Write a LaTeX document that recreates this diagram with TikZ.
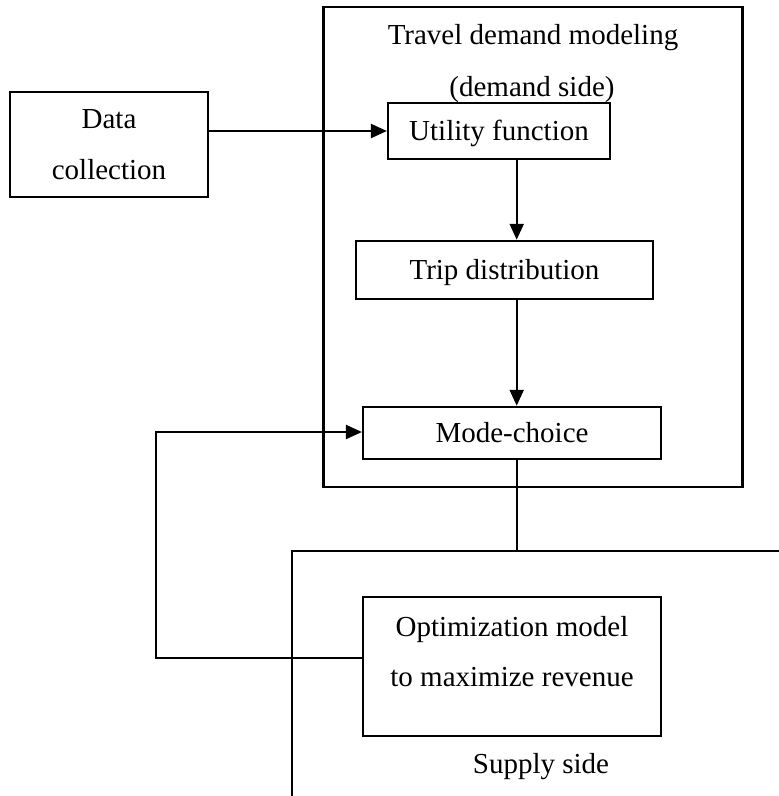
\documentclass[tikz,border=0pt]{standalone}
\usepackage{fontspec}
\setmainfont{Liberation Serif}
\usetikzlibrary{arrows.meta}
\begin{document}
\begin{tikzpicture}[x=1pt,y=-1pt,
  every node/.style={font=\fontsize{29}{50.7}\selectfont},
  frame/.style={draw, line width=2.2pt, inner sep=0pt},
  single/.style={frame, text height=20pt, text depth=2pt},
  link/.style={line width=2.2pt},
  arr/.style={link, -{Triangle[length=16pt,width=14pt]}},
  caption/.style={anchor=base, inner sep=0pt}]
\useasboundingbox (0,0) rectangle (779,796);

% demand-side frame and its heading
\node[frame, minimum width=419pt, minimum height=480pt] (demand) at (533,246.7) {};
\node[caption] (title) at (533,44.3) {Travel demand modeling};
\node[caption] (subtitle) at (532,96.5) {(demand side)};

% process boxes
\node[frame, minimum width=198pt, minimum height=105pt, align=center] (data) at (109,144.5) {Data\\collection};
\node[single, minimum width=222pt, minimum height=56pt] (util) at (499,131) {Utility function};
\node[single, minimum width=297pt, minimum height=58.3pt] (trip) at (504.5,270) {Trip distribution};
\node[single, minimum width=298pt, minimum height=52.3pt] (mode) at (512,433) {Mode-choice};
\node[frame, minimum width=298pt, minimum height=139pt, align=center, text depth=30.3pt] (opt) at (512,666.5) {Optimization model\\to maximize revenue};
\node[caption] (supply) at (541,773) {Supply side};

% helper coordinates
\coordinate (spine) at (516.7,0);
\coordinate (supnw) at (292,551);
\coordinate (supne) at (779,551);
\coordinate (supsw) at (292,796);
\coordinate (fblow) at (156,658);
\coordinate (fbhigh) at (156,432);

% connectors
\draw[arr] (data.east |- util.west) -- (util.west);
\draw[arr] (util.south -| spine) -- (trip.north -| spine);
\draw[arr] (trip.south -| spine) -- (mode.north -| spine);
\draw[link] (mode.south -| spine) -- (spine |- supnw);
\draw[link] (supsw) -- (supnw) -- (supne);
\draw[arr] (opt.west |- fblow) -- (fblow) -- (fbhigh) -- (mode.west |- fbhigh);
\end{tikzpicture}
\end{document}
